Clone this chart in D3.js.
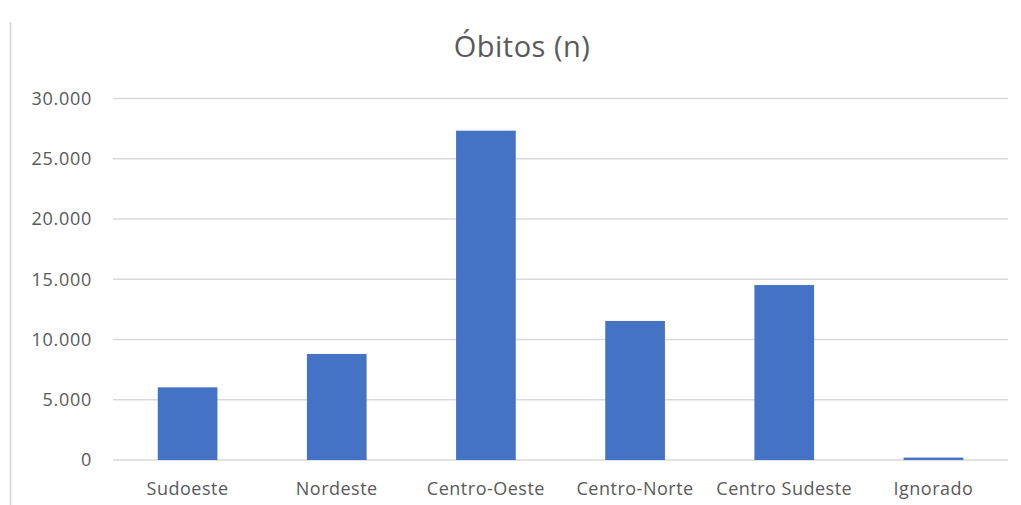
<!DOCTYPE html>
<html>
<head>
<meta charset="utf-8">
<script src="https://cdn.jsdelivr.net/npm/d3@7"></script>
<style>
  html, body { margin: 0; padding: 0; background: #ffffff; }
  svg { display: block; }
  text { font-family: "Open Sans", "Noto Sans", sans-serif; fill: #595959; }
</style>
</head>
<body>
<svg id="chart" width="1021" height="505"></svg>
<script>
// Deaths by region
const categories = ["Sudoeste", "Nordeste", "Centro-Oeste", "Centro-Norte", "Centro Sudeste", "Ignorado"];
const deaths = [6030, 8800, 27330, 11540, 14520, 200];
const yTicks = [0, 5000, 10000, 15000, 20000, 25000, 30000];
const title = "Óbitos (n)";

const width = 1021, height = 505;
const margin = { top: 98.5, right: 13, bottom: 45, left: 113 };

const svg = d3.select("#chart");

const ptBR = d3.formatLocale({ decimal: ",", thousands: ".", grouping: [3], currency: ["R$", ""] });
const fmt = ptBR.format(",d");

const x = d3.scaleBand()
  .domain(categories)
  .range([margin.left, width - margin.right])
  .paddingInner(0.6)
  .paddingOuter(0.3);

const y = d3.scaleLinear()
  .domain([0, 30000])
  .range([height - margin.bottom, margin.top]);

// Left frame edge
svg.append("line")
  .attr("x1", 10.5).attr("x2", 10.5)
  .attr("y1", 22).attr("y2", height)
  .attr("stroke", "#d4d4d4").attr("stroke-width", 1.5);

// Horizontal gridlines
svg.append("g")
  .selectAll("line")
  .data(yTicks)
  .join("line")
  .attr("x1", margin.left).attr("x2", width - margin.right)
  .attr("y1", d => y(d)).attr("y2", d => y(d))
  .attr("stroke", "#d9d9d9").attr("stroke-width", 1.5);

// Y axis labels
const yAxis = d3.axisLeft(y).tickValues(yTicks).tickFormat(fmt).tickSize(0).tickPadding(21);
svg.append("g")
  .attr("transform", `translate(${margin.left},0)`)
  .call(yAxis)
  .call(g => g.select(".domain").remove())
  .call(g => g.selectAll("text")
    .attr("fill", "#595959")
    .style("font-family", "\"Open Sans\", sans-serif")
    .style("font-size", "18px")
    .style("letter-spacing", "0.7px"));

// Bars
svg.append("g")
  .selectAll("rect")
  .data(categories.map((c, i) => ({ c, v: deaths[i] })))
  .join("rect")
  .attr("x", d => x(d.c))
  .attr("width", x.bandwidth())
  .attr("y", d => y(d.v))
  .attr("height", d => y(0) - y(d.v))
  .attr("fill", "#4472c4");

// X axis labels
const xAxis = d3.axisBottom(x).tickSize(0).tickPadding(22);
svg.append("g")
  .attr("transform", `translate(0,${y(0)})`)
  .call(xAxis)
  .call(g => g.select(".domain").remove())
  .call(g => g.selectAll("text")
    .attr("fill", "#595959")
    .style("font-family", "\"Open Sans\", sans-serif")
    .style("font-size", "18px")
    .style("letter-spacing", "0.5px"));

// Title
svg.append("text")
  .attr("x", 522)
  .attr("y", 57)
  .attr("text-anchor", "middle")
  .style("font-size", "29px")
  .style("letter-spacing", "0.5px")
  .style("fill", "#595959")
  .text(title);
</script>
</body>
</html>
